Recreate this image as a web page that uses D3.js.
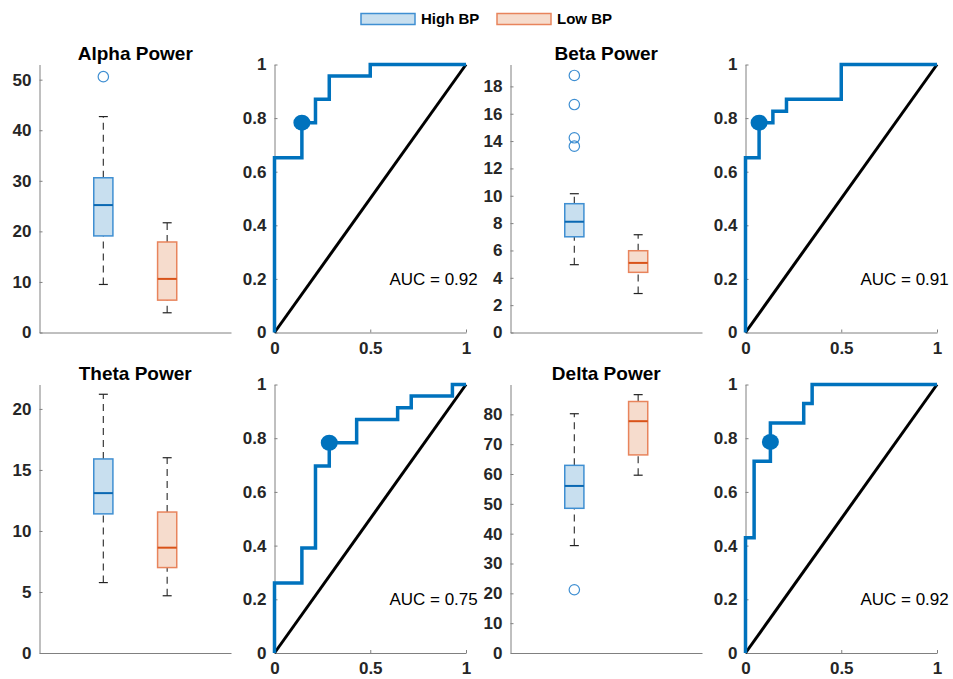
<!DOCTYPE html>
<meta charset="utf-8">
<style>
body { margin: 0; background: #fff; }
svg { font-family: "Liberation Sans", Arial, Helvetica, sans-serif; }
.tick text { font-size: 17px; font-weight: bold; fill: #262626; }
.domain { stroke: #808080; }
.tick line { stroke: #808080; }
.title { font-size: 19px; font-weight: bold; fill: #000; }
.auc { font-size: 17px; fill: #000; }
.legend text { font-size: 15px; font-weight: bold; fill: #000; }
</style>
<svg width="953" height="679"></svg>
<script src="https://d3js.org/d3.v7.min.js"></script>
<script>

// DATA
var groups = ["High BP", "Low BP"];
var bands = ["Alpha Power", "Beta Power", "Theta Power", "Delta Power"];

// box stats: [lower whisker, q1, median, q3, upper whisker]
var alphaHigh = [9.5, 19.1, 25.2, 30.6, 42.7];
var alphaLow  = [3.9, 6.4, 10.6, 17.9, 21.7];
var betaHigh  = [4.96, 7.0, 8.1, 9.42, 10.15];
var betaLow   = [2.85, 4.4, 5.09, 5.98, 7.15];
var thetaHigh = [5.77, 11.4, 13.1, 15.9, 21.2];
var thetaLow  = [4.69, 7.0, 8.63, 11.55, 16.0];
var deltaHigh = [36.0, 48.5, 56.0, 62.9, 80.2];
var deltaLow  = [59.6, 66.4, 77.7, 84.3, 86.6];

var alphaOut = [[50.6], []];
var betaOut  = [[18.8, 16.67, 14.24, 13.63], []];
var thetaOut = [[], []];
var deltaOut = [[21.2], []];

var yMax   = [53, 19.6, 22, 90];
var yTicks = [
  [0, 10, 20, 30, 40, 50],
  [0, 2, 4, 6, 8, 10, 12, 14, 16, 18],
  [0, 5, 10, 15, 20],
  [0, 10, 20, 30, 40, 50, 60, 70, 80]
];

// ROC step corners (fpr, tpr)
var alphaFpr = [0, 0, 0.143, 0.214, 0.286, 0.5, 1];
var alphaTpr = [0, 0.652, 0.783, 0.870, 0.957, 1, 1];
var betaFpr  = [0, 0, 0.071, 0.143, 0.214, 0.5, 1];
var betaTpr  = [0, 0.652, 0.783, 0.826, 0.870, 1, 1];
var thetaFpr = [0, 0, 0.143, 0.214, 0.286, 0.429, 0.643, 0.714, 0.929, 1];
var thetaTpr = [0, 0.261, 0.391, 0.696, 0.783, 0.870, 0.913, 0.957, 1, 1];
var deltaFpr = [0, 0, 0.045, 0.130, 0.304, 0.348, 1];
var deltaTpr = [0, 0.429, 0.714, 0.857, 0.929, 1, 1];

var cutPoint = [[0.143, 0.783], [0.071, 0.783], [0.286, 0.783], [0.130, 0.786]];
var auc = ["0.92", "0.91", "0.75", "0.92"];

var boxData = [[alphaHigh, alphaLow], [betaHigh, betaLow], [thetaHigh, thetaLow], [deltaHigh, deltaLow]];
var outData = [alphaOut, betaOut, thetaOut, deltaOut];
var rocFpr = [alphaFpr, betaFpr, thetaFpr, deltaFpr];
var rocTpr = [alphaTpr, betaTpr, thetaTpr, deltaTpr];

// STYLE
var edgeCol   = ["#3f8fd2", "#e8845c"];
var fillCol   = ["#c8dfef", "#f6dccd"];
var medCol    = ["#0a68b2", "#d95319"];
var rocCol    = "#0072bd";

var svg = d3.select("svg");

var colX = [39.5, 274.5, 510.5, 745.5],
    colW = 191.5,
    rowTop = [64.5, 384.5],
    rowBot = [332.5, 653];

bands.forEach(function(name, i) {
  var r = Math.floor(i / 2), c = (i % 2) * 2;
  drawBox(i, colX[c], rowTop[r], colW, rowBot[r] - rowTop[r]);
  drawRoc(i, colX[c + 1], rowTop[r], colW, rowBot[r] - rowTop[r]);
});

function drawBox(i, left, top, w, h) {
  var g = svg.append("g").attr("transform", "translate(" + left + "," + top + ")");
  var x = d3.scalePoint().domain(groups).range([0, w]).padding(1);
  var y = d3.scaleLinear().domain([0, yMax[i]]).range([h, 0]);
  var bw = x.step() * 0.3;

  g.append("g")
      .call(d3.axisLeft(y).tickValues(yTicks[i]).tickSizeInner(-3).tickSizeOuter(0).tickPadding(8));
  g.append("g")
      .attr("transform", "translate(0," + h + ")")
      .call(d3.axisBottom(x).tickValues([]).tickSizeOuter(0));

  g.append("text")
      .attr("class", "title")
      .attr("x", w / 2)
      .attr("y", -4.5)
      .attr("text-anchor", "middle")
      .text(bands[i]);

  groups.forEach(function(gr, k) {
    var s = boxData[i][k], cx = x(gr);
    // whiskers
    [[s[0], s[1]], [s[3], s[4]]].forEach(function(p) {
      g.append("line")
          .attr("x1", cx).attr("x2", cx)
          .attr("y1", y(p[0])).attr("y2", y(p[1]))
          .attr("stroke", "#3a3a3a").attr("stroke-width", 1.2)
          .attr("stroke-dasharray", "7,5");
    });
    [s[0], s[4]].forEach(function(v) {
      g.append("line")
          .attr("x1", cx - 4.5).attr("x2", cx + 4.5)
          .attr("y1", y(v)).attr("y2", y(v))
          .attr("stroke", "#222").attr("stroke-width", 1.2);
    });
    g.append("rect")
        .attr("x", cx - bw / 2)
        .attr("y", y(s[3]))
        .attr("width", bw)
        .attr("height", y(s[1]) - y(s[3]))
        .attr("fill", fillCol[k])
        .attr("stroke", edgeCol[k])
        .attr("stroke-width", 1.5);
    g.append("line")
        .attr("x1", cx - bw / 2).attr("x2", cx + bw / 2)
        .attr("y1", y(s[2])).attr("y2", y(s[2]))
        .attr("stroke", medCol[k]).attr("stroke-width", 2);
    g.selectAll(null)
      .data(outData[i][k])
      .enter().append("circle")
        .attr("cx", cx)
        .attr("cy", function(d) { return y(d); })
        .attr("r", 5.2)
        .attr("fill", "none")
        .attr("stroke", edgeCol[k])
        .attr("stroke-width", 1.2);
  });
}

function drawRoc(i, left, top, w, h) {
  var g = svg.append("g").attr("transform", "translate(" + left + "," + top + ")");
  var x = d3.scaleLinear().domain([0, 1]).range([0, w]);
  var y = d3.scaleLinear().domain([0, 1]).range([h, 0]);

  g.append("g")
      .call(d3.axisLeft(y).tickValues([0, 0.2, 0.4, 0.6, 0.8, 1]).tickFormat(d3.format("~g"))
        .tickSizeInner(-3).tickSizeOuter(0).tickPadding(8));
  g.append("g")
      .attr("transform", "translate(0," + h + ")")
      .call(d3.axisBottom(x).tickValues([0, 0.5, 1]).tickFormat(d3.format("~g"))
        .tickSizeInner(-3).tickSizeOuter(0).tickPadding(9));

  g.append("line")
      .attr("x1", x(0)).attr("y1", y(0))
      .attr("x2", x(1)).attr("y2", y(1))
      .attr("stroke", "#000").attr("stroke-width", 3);

  var pts = rocFpr[i].map(function(f, j) { return [f, rocTpr[i][j]]; });
  g.append("path")
      .datum(pts)
      .attr("fill", "none")
      .attr("stroke", rocCol)
      .attr("stroke-width", 3.5)
      .attr("d", d3.line()
        .x(function(d) { return x(d[0]); })
        .y(function(d) { return y(d[1]); })
        .curve(d3.curveStepAfter));

  g.append("ellipse")
      .attr("cx", x(cutPoint[i][0]))
      .attr("cy", y(cutPoint[i][1]))
      .attr("rx", 8.5).attr("ry", 8)
      .attr("fill", rocCol);

  g.append("text")
      .attr("class", "auc")
      .attr("x", x(0.6))
      .attr("y", y(0.2))
      .attr("dy", "0.35em")
      .text("AUC = " + auc[i]);
}

// legend
var legend = svg.append("g").attr("class", "legend");
var legX = [361, 497];
groups.forEach(function(gr, k) {
  legend.append("rect")
      .attr("x", legX[k]).attr("y", 13.5)
      .attr("width", 54).attr("height", 11)
      .attr("fill", fillCol[k])
      .attr("stroke", edgeCol[k])
      .attr("stroke-width", 1.5);
  legend.append("text")
      .attr("x", legX[k] + 60)
      .attr("y", 19)
      .attr("dy", "0.35em")
      .text(gr);
});

</script>
